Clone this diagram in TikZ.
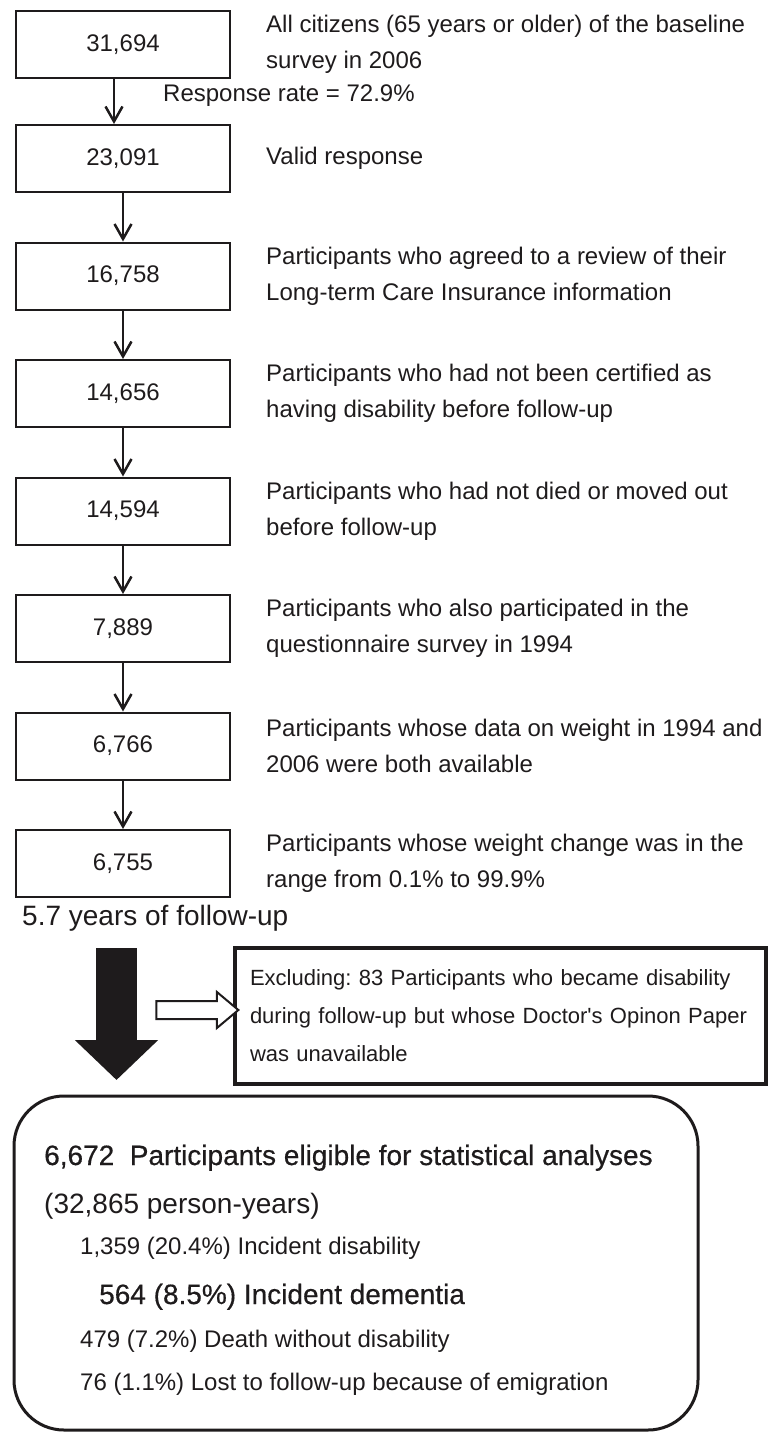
\documentclass[tikz,border=0pt]{standalone}
\usepackage{fontspec}
\setmainfont{Liberation Sans}
\newfontfamily\heavyfont[FakeBold=0.5]{Liberation Sans}
\usepackage{tikz}
\usetikzlibrary{arrows.meta,positioning,shapes.arrows}
\definecolor{ink}{HTML}{1E1B1C}
\frenchspacing
\tikzset{
  numbox/.style={rectangle, draw=ink, line width=2pt, minimum width=214pt, minimum height=67pt,
    inner sep=0pt, text=ink, font=\fontsize{24}{36}\selectfont},
  desc/.style={anchor=west, align=left, inner sep=0pt, text=ink, font=\fontsize{24}{36}\selectfont},
  flow/.style={-{Straight Barb[length=15pt,width=17pt]}, line width=2.5pt, draw=ink},
  bigflow/.style={-{Triangle[length=40pt,width=81pt]}, line width=41pt, draw=ink},
  hollow/.style={single arrow, draw=ink, fill=white, line width=2pt, minimum height=82pt,
    inner xsep=0pt, inner ysep=8pt, single arrow head extend=9pt, single arrow tip angle=80},
  exclbox/.style={rectangle, draw=ink, line width=3.5pt, minimum width=531pt, minimum height=136pt,
    text width=501pt, inner xsep=15pt, align=left, text=ink, font=\fontsize{22}{38}\selectfont},
  resbox/.style={rectangle, draw=ink, line width=3pt, rounded corners=50pt,
    minimum width=684pt, minimum height=334pt},
  restxt/.style={anchor=base west, inner sep=0pt, text=ink, font=\fontsize{24}{30}\selectfont},
  reshead/.style={restxt, font=\fontsize{28}{34}\selectfont},
}

\begin{document}
\begin{tikzpicture}[x=1pt, y=1pt, node distance=48.5pt and 35pt]
  \useasboundingbox (0,0) rectangle (768,-1432);

  \node[numbox] (n31694) at (123,-44.5) {31,694};
  \node[numbox, below=45pt of n31694] (n23091) {23,091};
  \node[numbox, below=of n23091] (n16758) {16,758};
  \node[numbox, below=of n16758] (n14656) {14,656};
  \node[numbox, below=of n14656] (n14594) {14,594};
  \node[numbox, below=of n14594] (n7889) {7,889};
  \node[numbox, below=of n7889] (n6766) {6,766};
  \node[numbox, below=of n6766] (n6755) {6,755};

  \node[desc, right=of n31694] (d31694) {All citizens (65 years or older) of the baseline\\ survey in 2006};
  \node[desc] (rrate) at (163,-96) {Response rate = 72.9\%};
  \node[desc, right=of n23091] (d23091) {Valid response};
  \node[desc, right=of n16758] (d16758) {Participants who agreed to a review of their\\ Long-term Care Insurance information};
  \node[desc, right=of n14656] (d14656) {Participants who had not been certified as\\ having disability before follow-up};
  \node[desc, right=of n14594] (d14594) {Participants who had not died or moved out\\ before follow-up};
  \node[desc, right=of n7889] (d7889) {Participants who also participated in the\\ questionnaire survey in 1994};
  \node[desc, right=of n6766] (d6766) {Participants whose data on weight in 1994 and\\ 2006 were both available};
  \node[desc, right=of n6755] (d6755) {Participants whose weight change was in the\\ range from 0.1\% to 99.9\%};

  \draw[flow] ([xshift=-9pt]n31694.south) -- ([xshift=-9pt]n23091.north);
  \draw[flow] (n23091) -- (n16758);
  \draw[flow] (n16758) -- (n14656);
  \draw[flow] (n14656) -- (n14594);
  \draw[flow] (n14594) -- (n7889);
  \draw[flow] (n7889) -- (n6766);
  \draw[flow] (n6766) -- (n6755);

  % follow-up and exclusion
  \node[desc, font=\fontsize{28}{34}\selectfont] (years) at (22,-918) {5.7 years of follow-up};
  \coordinate (bigtop) at (116.5,-948);
  \coordinate (bigtip) at (116.5,-1080);
  \draw[bigflow] (bigtop) -- (bigtip);
  \node[exclbox] (excl) at (500.5,-1016) {Excluding: 83 Participants who became disability\\ during follow-up but whose Doctor\textquotesingle s Opinon Paper\\ was unavailable};
  \node[hollow] (side) at (192,-1010) {};

  % analysed cohort
  \node[resbox] (res) at (356,-1263) {};
  \node[reshead, font=\fontsize{28}{34}\heavyfont] (elig) at (44,-1165) {6,672\ \ Participants eligible for statistical analyses};
  \node[reshead] (pyears) at (44,-1213) {(32,865 person-years)};
  \node[restxt] (disab) at (80,-1254) {1,359 (20.4\%) Incident disability};
  \node[reshead, font=\fontsize{28}{34}\heavyfont] (dement) at (99,-1304) {564 (8.5\%) Incident dementia};
  \node[restxt] (death) at (80,-1347) {479 (7.2\%) Death without disability};
  \node[restxt] (lost) at (80,-1390) {76 (1.1\%) Lost to follow-up because of emigration};
\end{tikzpicture}
\end{document}
